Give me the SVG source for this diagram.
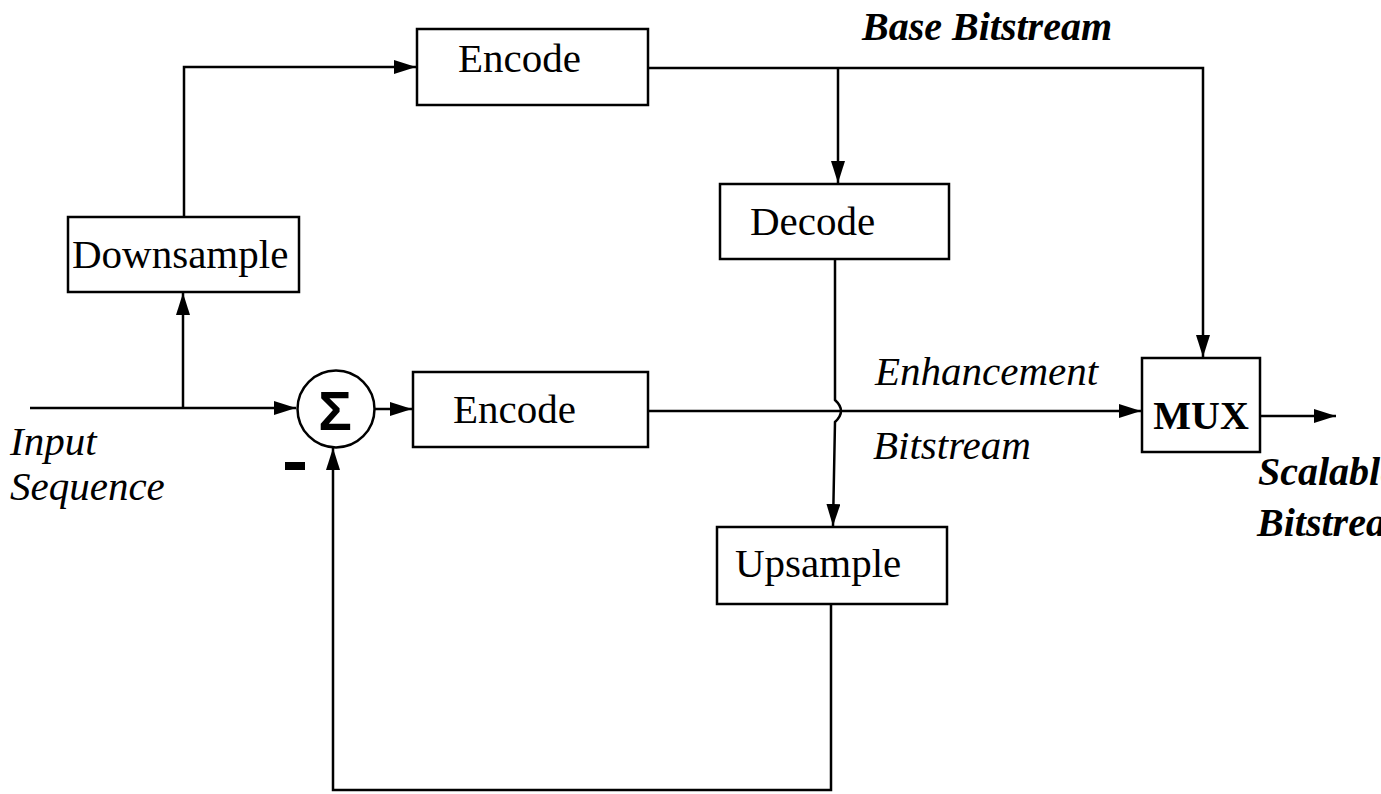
<svg xmlns="http://www.w3.org/2000/svg" width="1381" height="794" viewBox="0 0 1381 794">
<defs>
<marker id="arr" viewBox="0 0 22 14" refX="22" refY="7" markerWidth="22" markerHeight="14" markerUnits="userSpaceOnUse" orient="auto">
<path d="M0,0 L22,7 L0,14 Z" fill="#000"/>
</marker>
<style>
.box{fill:#fff;stroke:#000;stroke-width:2.5}
.lbl{font-family:"Liberation Serif",serif;font-size:41px;fill:#000}
.it{font-family:"Liberation Serif",serif;font-size:41px;font-style:italic;fill:#000}
.bi{font-family:"Liberation Serif",serif;font-size:40px;font-style:italic;font-weight:bold;fill:#000}
.ln{fill:none;stroke:#000;stroke-width:2.5}
</style>
</defs>
<rect width="1381" height="794" fill="#fff"/>
<g id="connectors">
<path class="ln" d="M30,408 L296,408" marker-end="url(#arr)"/>
<path class="ln" d="M183,408 L183,293" marker-end="url(#arr)"/>
<path class="ln" d="M184,217 L184,67 L416,67" marker-end="url(#arr)"/>
<path class="ln" d="M648,68 L1203,68 L1203,357" marker-end="url(#arr)"/>
<path class="ln" d="M838,68 L838,183" marker-end="url(#arr)"/>
<path class="ln" d="M375,409 L412,409" marker-end="url(#arr)"/>
<path class="ln" d="M648,411 L1141,411" marker-end="url(#arr)"/>
<path class="ln" d="M1260,416 L1336,416" marker-end="url(#arr)"/>
<path class="ln" d="M835,259 L835,400 Q847,411 835,422 L833,526" marker-end="url(#arr)"/>
<path class="ln" d="M831,604 L831,790 L333,790 L333,448" marker-end="url(#arr)"/>
</g>
<g id="downsample">
<rect class="box" x="68" y="217" width="231" height="75"/>
<text class="lbl" x="72" y="268">Downsample</text>
</g>
<g id="encode-base">
<rect class="box" x="417" y="29" width="231" height="76"/>
<text class="lbl" x="458" y="72">Encode</text>
</g>
<g id="sum">
<circle cx="336" cy="409" r="38.5" fill="#fff" stroke="#000" stroke-width="2.5"/>
<text x="335" y="430" text-anchor="middle" font-family="'Liberation Sans',sans-serif" font-weight="bold" font-size="56">Σ</text>
<rect x="285" y="462" width="20" height="8" fill="#000"/>
</g>
<g id="encode-enh">
<rect class="box" x="413" y="372" width="235" height="75"/>
<text class="lbl" x="453" y="423">Encode</text>
</g>
<g id="decode">
<rect class="box" x="720" y="184" width="229" height="75"/>
<text class="lbl" x="750" y="235">Decode</text>
</g>
<g id="upsample">
<rect class="box" x="717" y="527" width="230" height="77"/>
<text class="lbl" x="735" y="577">Upsample</text>
</g>
<g id="mux">
<rect class="box" x="1142" y="358" width="118" height="94"/>
<text x="1201" y="429" text-anchor="middle" font-family="'Liberation Serif',serif" font-weight="bold" font-size="40">MUX</text>
</g>
<g id="labels">
<text class="bi" x="862" y="40">Base Bitstream</text>
<text class="it" x="875" y="385">Enhancement</text>
<text class="it" x="873" y="459">Bitstream</text>
<text class="it" x="10" y="455">Input</text>
<text class="it" x="10" y="500">Sequence</text>
<text class="bi" x="1258" y="485">Scalable</text>
<text class="bi" x="1257" y="536">Bitstream</text>
</g>
</svg>
